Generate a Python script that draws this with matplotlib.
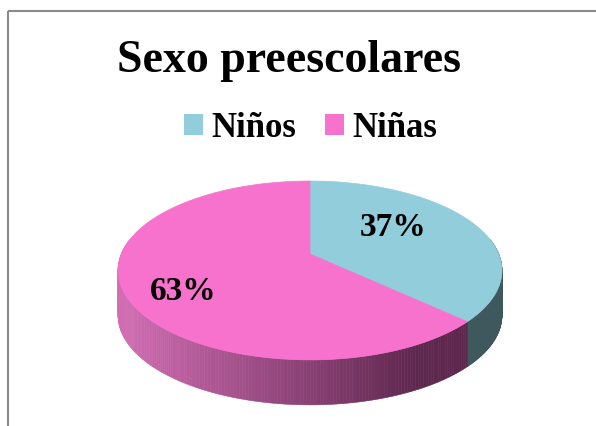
import numpy as np
import matplotlib.pyplot as plt
from matplotlib.patches import Polygon, Rectangle, Patch
from matplotlib.colors import to_rgb

# Distribución por sexo
categories = ["Niños", "Niñas"]
shares = [37, 63]

top_colors = ["#92CDDC", "#F672CC"]
side_light = ["#3E585D", "#D26DB4"]
side_dark = ["#3E585D", "#5E274E"]

FONT = "Liberation Serif"

fig = plt.figure(figsize=(5.96, 4.27), dpi=100)
ax = fig.add_axes([0, 0, 1, 1])
ax.set_xlim(0, 596)
ax.set_ylim(427, 0)
ax.axis("off")

# outer frame of the chart area
ax.add_patch(Rectangle((7.5, 11.5), 620, 440, fill=False, edgecolor="#8A8A8A", linewidth=1.5))

# tilted pie with a little perspective (pixels)
cx, cy = 310, 255
A, B, k = 188.7, 86.4, 0.184
depth = 45


def pt(t, dy=0.0):
    r = np.radians(t)
    u, v = np.cos(r), np.sin(r)
    w = 1 + k * v
    return cx + A * u / w, cy - B * v / w + dy


total = float(sum(shares))
angles = []
start = 90.0
for v in shares:
    end = start - 360.0 * v / total
    angles.append((start, end))
    start = end

# side walls: only the front half (-180..0 deg) is visible
for i, (t0, t1) in enumerate(angles):
    lo, hi = max(min(t0, t1), -190.0), min(max(t0, t1), 10.0)
    if lo >= hi:
        continue
    ts = np.linspace(lo, hi, 180)
    c0, c1 = np.array(to_rgb(side_light[i])), np.array(to_rgb(side_dark[i]))
    for ta, tb in zip(ts[:-1], ts[1:]):
        xa, ya = pt(ta)
        xb, yb = pt(tb)
        f = ((xa + xb) / 2 - 118) / 300.0
        f = min(max(f, 0.0), 1.0)
        col = c0 + (c1 - c0) * f
        ax.add_patch(Polygon([(xa, ya), (xb, yb), (xb, yb + depth), (xa, ya + depth)],
                             closed=True, facecolor=col, edgecolor=col, linewidth=0.4))

# top faces
for i, (t0, t1) in enumerate(angles):
    ts = np.linspace(t0, t1, 200)
    verts = [(cx, cy)] + [pt(t) for t in ts]
    ax.add_patch(Polygon(verts, closed=True, facecolor=top_colors[i],
                         edgecolor=top_colors[i], linewidth=0.5))

# value labels
label_pos = [(393, 228), (183, 292)]
for v, (x, y) in zip(shares, label_pos):
    ax.text(x, y, f"{v}%", ha="center", va="center", fontsize=24,
            fontweight="bold", family=FONT)

ax.text(117, 72, "Sexo preescolares", ha="left", va="baseline",
        fontsize=33, fontweight="bold", family=FONT)

handles = [Patch(facecolor=c, edgecolor="none") for c in top_colors]
fig.legend(handles, categories, loc="center", bbox_to_anchor=(0.521, 0.698), ncol=2,
           frameon=False, handlelength=0.55, handleheight=0.55, handletextpad=0.23,
           columnspacing=0.84, borderpad=0, prop={"family": FONT, "weight": "bold", "size": 25})

fig.savefig("out.png", dpi=100)
